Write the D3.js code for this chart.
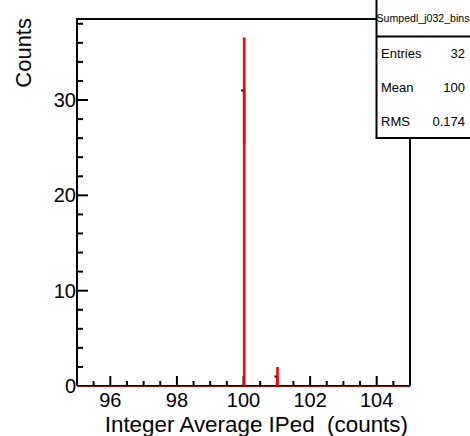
<!DOCTYPE html>
<html>
<head>
<meta charset="utf-8">
<script src="https://cdn.jsdelivr.net/npm/d3@7"></script>
<style>
  html, body { margin: 0; padding: 0; background: #fff; }
  svg { display: block; }
  text { font-family: "Liberation Sans", Arial, sans-serif; fill: #000; }
</style>
</head>
<body>
<svg id="chart" width="470" height="436"></svg>
<script>
// ---- data ----
const binCenters = [100, 101];
const counts = [31, 1];
const errors = [5.57, 1.0];
const xMajorTicks = [96, 98, 100, 102, 104];
const yMajorTicks = [0, 10, 20, 30];
const xDomain = [95, 105];
const yDomain = [0, 38.5];
const xTitle = "Integer Average IPed  (counts)";
const yTitle = "Counts";
const statsTitle = "Sumpedl_j032_bins";
const statsLabels = ["Entries", "Mean", "RMS"];
const statsValues = ["32", "100", "0.174"];

// ---- layout ----
const L = 77, R = 410, T = 19, B = 386;
const svg = d3.select("#chart");
const x = d3.scaleLinear().domain(xDomain).range([L, R]);
const y = d3.scaleLinear().domain(yDomain).range([B, T]);

const xMinor = x.ticks(20).filter(v => !xMajorTicks.includes(v) && v > xDomain[0]);
const yMinor = d3.range(0, 38.5, 2).filter(v => !yMajorTicks.includes(v));

// x axis ticks (inside, upward)
const gx = svg.append("g");
gx.selectAll("line.minor").data(xMinor).join("line")
  .attr("class", "minor")
  .attr("x1", d => x(d)).attr("x2", d => x(d))
  .attr("y1", B).attr("y2", B - 5)
  .attr("stroke", "#000").attr("stroke-width", 2);
gx.selectAll("line.major").data(xMajorTicks).join("line")
  .attr("class", "major")
  .attr("x1", d => x(d)).attr("x2", d => x(d))
  .attr("y1", B).attr("y2", B - 10)
  .attr("stroke", "#000").attr("stroke-width", 2);
gx.selectAll("text").data(xMajorTicks).join("text")
  .attr("x", d => x(d)).attr("y", B + 21)
  .attr("text-anchor", "middle").attr("font-size", 20)
  .text(d => d);

// y axis ticks (inside, rightward)
const gy = svg.append("g");
gy.selectAll("line.minor").data(yMinor).join("line")
  .attr("class", "minor")
  .attr("x1", L).attr("x2", L + 6)
  .attr("y1", d => y(d)).attr("y2", d => y(d))
  .attr("stroke", "#000").attr("stroke-width", 2);
gy.selectAll("line.major").data(yMajorTicks).join("line")
  .attr("class", "major")
  .attr("x1", L).attr("x2", L + 11)
  .attr("y1", d => y(d)).attr("y2", d => y(d))
  .attr("stroke", "#000").attr("stroke-width", 2);
gy.selectAll("text").data(yMajorTicks).join("text")
  .attr("x", L - 1).attr("y", d => y(d) + 7)
  .attr("text-anchor", "end").attr("font-size", 20)
  .text(d => d);

// frame
svg.append("path")
  .attr("d", `M${L},${B}V${T}H${R}V${B}`)
  .attr("fill", "none").attr("stroke", "#000").attr("stroke-width", 2);
svg.append("line").attr("x1", L).attr("x2", R).attr("y1", B).attr("y2", B)
  .attr("stroke", "#000").attr("stroke-width", 2);
// histogram zero level (red over black)
svg.append("line").attr("x1", L).attr("x2", R).attr("y1", B + 0.5).attr("y2", B + 0.5)
  .attr("stroke", "#8a1010").attr("stroke-width", 1.2);

// histogram bars + error bars
const hist = svg.append("g");
hist.selectAll("line.h").data(binCenters).join("line")
  .attr("class", "h")
  .attr("x1", d => x(d) + 0.7).attr("x2", d => x(d) + 0.7)
  .attr("y1", y(0)).attr("y2", (d, i) => y(counts[i]))
  .attr("stroke", "#ff0000").attr("stroke-width", 2.6);
hist.selectAll("line.e").data(binCenters).join("line")
  .attr("class", "e")
  .attr("x1", d => x(d) + 0.7).attr("x2", d => x(d) + 0.7)
  .attr("y1", (d, i) => y(Math.max(0, counts[i] - errors[i])))
  .attr("y2", (d, i) => y(counts[i] + errors[i]))
  .attr("stroke", "#ff0000").attr("stroke-width", 2.6);
hist.selectAll("rect.m").data(binCenters).join("rect")
  .attr("class", "m")
  .attr("x", d => x(d) - 2.3).attr("y", (d, i) => y(counts[i]) - 1)
  .attr("width", 2).attr("height", 2).attr("fill", "#000");

// axis titles
svg.append("text").attr("x", R - 2).attr("y", 432)
  .attr("text-anchor", "end").attr("font-size", 22.4)
  .style("white-space", "pre").attr("xml:space", "preserve")
  .text(xTitle);
svg.append("text")
  .attr("transform", `translate(31,${T - 1}) rotate(-90)`)
  .attr("text-anchor", "end").attr("font-size", 22)
  .text(yTitle);

// stats box
const sb = svg.append("g");
sb.append("rect").attr("x", 376.5).attr("y", -2).attr("width", 100).attr("height", 140)
  .attr("fill", "#fff").attr("stroke", "#000").attr("stroke-width", 2);
sb.append("line").attr("x1", 376.5).attr("x2", 470).attr("y1", 36.5).attr("y2", 36.5)
  .attr("stroke", "#000").attr("stroke-width", 2);
sb.append("text").attr("x", 423).attr("y", 22)
  .attr("text-anchor", "middle").attr("font-size", 10.6)
  .text(statsTitle);
sb.selectAll("text.lab").data(statsLabels).join("text")
  .attr("class", "lab")
  .attr("x", 381).attr("y", (d, i) => 58 + i * 34)
  .attr("font-size", 13).text(d => d);
sb.selectAll("text.val").data(statsValues).join("text")
  .attr("class", "val")
  .attr("x", 465).attr("y", (d, i) => 58 + i * 34)
  .attr("text-anchor", "end").attr("font-size", 13).text(d => d);
</script>
</body>
</html>
